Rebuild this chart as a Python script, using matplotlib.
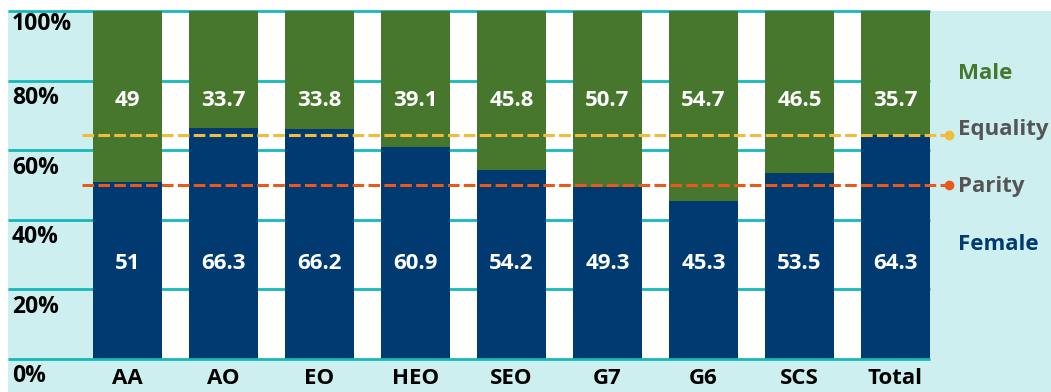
import matplotlib.pyplot as plt
from matplotlib.patches import Rectangle

grades = ["AA", "AO", "EO", "HEO", "SEO", "G7", "G6", "SCS", "Total"]
female = [51, 66.3, 66.2, 60.9, 54.2, 49.3, 45.3, 53.5, 64.3]
male = [49, 33.7, 33.8, 39.1, 45.8, 50.7, 54.7, 46.5, 35.7]
equality = 64.3
parity = 50
yticks = [0, 20, 40, 60, 80, 100]

GREEN = "#47772c"
NAVY = "#003a70"
CYAN = "#cdeff0"
TEAL = "#16b9b9"
YELLOW = "#f1bb3c"
ORANGE = "#e85a1b"
GREY = "#555555"

plt.rcParams["font.family"] = ["Open Sans", "DejaVu Sans"]
plt.rcParams["font.weight"] = "bold"

W, H = 1051, 392
fig = plt.figure(figsize=(W / 100, H / 100), dpi=100)
fig.patch.set_facecolor("white")

# cyan panel behind everything
bg = fig.add_axes([0, 0, 1, 1], zorder=-1)
bg.set_axis_off()
bg.set_xlim(0, W)
bg.set_ylim(H, 0)
bg.add_patch(Rectangle((8, 11), W - 8, H - 11, facecolor=CYAN, edgecolor="none"))

# plot area (white)
ax = fig.add_axes([93 / W, (H - 359) / H, (930 - 93) / W, (359 - 11) / H], zorder=1)
ax.set_facecolor("white")
for s in ax.spines.values():
    s.set_visible(False)
ax.set_xticks([])
ax.set_yticks([])

bw = 69 / 96
x = list(range(len(grades)))
ax.set_xlim(-bw / 2, len(grades) - 1 + bw / 2)
ax.set_ylim(0, 100)

ax.bar(x, female, width=bw, color=NAVY, zorder=3)
ax.bar(x, male, bottom=female, width=bw, color=GREEN, zorder=3)

# gridlines run into the left cyan margin
left = -(93 - 8) / 837
ytr = ax.get_yaxis_transform()
for y in yticks:
    z = 4 if y == 0 else 1
    ax.plot([left, 1], [y, y], color=TEAL, lw=2, transform=ytr,
            clip_on=False, zorder=z, solid_capstyle="butt")
    off = 3.6 if y == 100 else 5.0
    ax.text(left + 4 / 837, y - off, f"{y}%", transform=ytr, ha="left",
            va="center", fontsize=16.5, fontweight="bold", color="black")

# equality & parity dashed lines with end dots
lx0 = -(93 - 82) / 837
lx1 = (949 - 93) / 837
for val, col, name, dy in [(equality, YELLOW, "Equality", 1.6),
                           (parity, ORANGE, "Parity", -0.4)]:
    ax.plot([lx0, lx1], [val, val], color=col, lw=2.2, ls=(0, (3.8, 1.4)),
            transform=ytr, clip_on=False, zorder=5)
    ax.plot([lx1], [val], "o", color=col, ms=6, transform=ytr,
            clip_on=False, zorder=5)
    ax.text(lx1 + 9 / 837, val + dy, name, transform=ytr, ha="left",
            va="center", fontsize=16, fontweight="bold", color=GREY)

ax.text(lx1 + 9 / 837, 82.0, "Male", transform=ytr, ha="left", va="center",
        fontsize=16, fontweight="bold", color=GREEN)
ax.text(lx1 + 9 / 837, 33.0, "Female", transform=ytr, ha="left",
        va="center", fontsize=16, fontweight="bold", color=NAVY)

# value labels
for i in x:
    ax.text(i, 27.4, f"{female[i]:g}", ha="center", va="center",
            fontsize=16, fontweight="bold", color="white", zorder=6)
    ax.text(i, 74.2, f"{male[i]:g}", ha="center", va="center",
            fontsize=16, fontweight="bold", color="white", zorder=6)
    ax.text(i, -5.6, grades[i], ha="center", va="center", fontsize=16,
            fontweight="bold", color="black", clip_on=False)

fig.savefig("out.png", dpi=100)
